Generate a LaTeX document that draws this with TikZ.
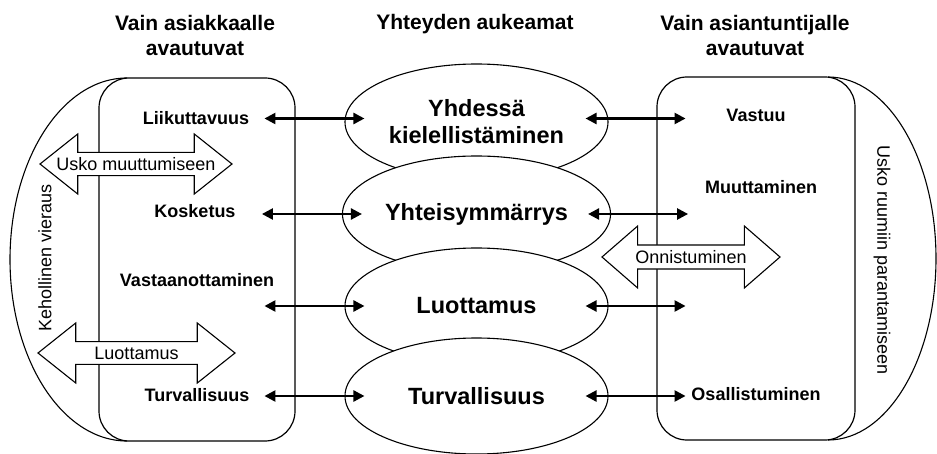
\documentclass[tikz,border=0pt]{standalone}
\usepackage{fontspec}
\setmainfont{Liberation Sans}
\usetikzlibrary{positioning, shapes.geometric, shapes.arrows, arrows.meta}
\tikzset{
	link/.style={line width=2.4pt, {Triangle[length=11pt, width=11pt]}-{Triangle[length=11pt, width=11pt]}},
	frame/.style={line width=1.2pt, rounded corners=30pt},
	outline/.style={line width=1.1pt},
	area/.style={ellipse, draw, line width=1.1pt, fill=white, minimum width=263pt, minimum height=116pt, align=center, font=\fontsize{23.5}{27}\selectfont\bfseries},
	bigarrow/.style={double arrow, draw, line width=1.1pt, fill=white, minimum width=60pt, double arrow head extend=14.5pt, double arrow tip angle=77, inner xsep=0pt, inner ysep=2pt, font=\fontsize{18}{21}\selectfont},
	item/.style={anchor=base, font=\fontsize{18}{21}\selectfont\bfseries},
	header/.style={anchor=base, align=center, font=\fontsize{21}{25.5}\selectfont\bfseries},
	side/.style={font=\fontsize{18}{21}\selectfont},
}

\begin{document}
\begin{tikzpicture}[x=1pt, y=1pt]
	\useasboundingbox (0,0) rectangle (937,453);
% Headers (base = last line)
		\node[header] (hleft) at (195,397) {Vain asiakkaalle\\avautuvat};
		\node[header] (hmid) at (475,423) {Yhteyden aukeamat};
		\node[header] (hright) at (755,397) {Vain asiantuntijalle\\avautuvat};

% Client side
		\draw[outline] (127,375) arc[start angle=90, end angle=270, x radius=117, y radius=181.5];
		\draw[frame] (99,375) rectangle (295,12);
		\node[side, rotate=90] (body) at (45,195) {Kehollinen vieraus};
		\node[item] (move) at (196,328) {Liikuttavuus};
		\node[item] (touch) at (195,235) {Kosketus};
		\node[item] (receive) at (197,167) {Vastaanottaminen};
		\node[item] (safeleft) at (197,52) {Turvallisuus};

% Expert side
		\draw[outline] (828,376) arc[start angle=90, end angle=-90, x radius=108, y radius=181.5];
		\draw[frame] (657,376) rectangle (855,13);
		\node[side, rotate=-90] (heal) at (882,193) {Usko ruumiin parantamiseen};
		\node[item] (duty) at (756,331) {Vastuu};
		\node[item] (change) at (761,259) {Muuttaminen};
		\node[item] (share) at (756,53) {Osallistuminen};

% Openings of the connection
		\node[area] (together) at (476.5,331) {Yhdessä\\kielellistäminen};
		\node[area] (mutual) at (476.5,239) {Yhteisymmärrys};
		\node[area] (trust) at (476.5,147) {Luottamus};
		\node[area] (safety) at (476.5,57) {Turvallisuus};

		\foreach \e/\s in {together/3.5, mutual/0, trust/0, safety/0} {
			\draw[link] ([xshift=-80pt, yshift=\s pt]\e.west) -- ([xshift=20pt, yshift=\s pt]\e.west);
			\draw[link] ([xshift=-23pt, yshift=\s pt]\e.east) -- ([xshift=77pt, yshift=\s pt]\e.east);
		}

% Block arrows
		\node[bigarrow, minimum height=192pt] (faith) at (136,289) {Usko muuttumiseen};
		\node[bigarrow, minimum height=197pt] (trustarrow) at (136.5,100) {Luottamus};
		\node[bigarrow, minimum height=178pt, minimum width=62pt, double arrow tip angle=82] (success) at (691,196) {Onnistuminen};
	\end{tikzpicture}
\end{document}
